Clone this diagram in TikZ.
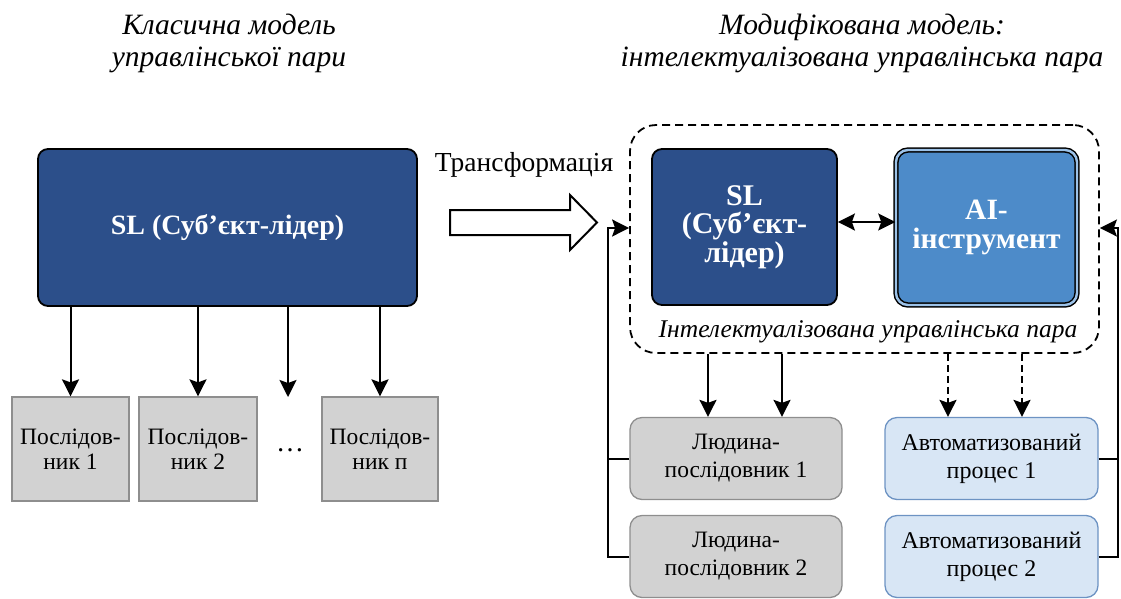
\documentclass[tikz,border=0pt]{standalone}
\usepackage{fontspec}
\setmainfont{Liberation Serif}
\usetikzlibrary{arrows.meta,calc}
\definecolor{darkblue}{HTML}{2C4F8A}
\definecolor{aiblue}{HTML}{4D8BC9}
\definecolor{aiedge}{HTML}{9CC2E8}
\definecolor{grayfill}{HTML}{D2D2D2}
\definecolor{grayedge}{HTML}{8E8E8E}
\definecolor{lightfill}{HTML}{D8E6F5}
\definecolor{lightedge}{HTML}{6D93C3}
\newcommand{\fs}[2]{\fontsize{#1}{#2}\selectfont}
\begin{document}
\begin{tikzpicture}[x=1pt,y=-1pt,
  leaderbox/.style={draw=black, line width=1.8pt, fill=darkblue, rounded corners=10pt,
    text=white, align=center, inner sep=0pt},
  aibox/.style={draw=black, line width=1.5pt, double=aiedge, double distance=2.4pt,
    fill=aiblue, rounded corners=12pt, text=white, align=center, inner sep=0pt},
  follower/.style={draw=grayedge, line width=1.3pt, fill=grayfill, align=center,
    inner sep=0pt, font=\fs{23.5}{25}},
  human/.style={draw=grayedge, line width=1.3pt, fill=grayfill, rounded corners=12pt,
    align=center, inner sep=0pt, font=\fs{23.5}{28}, minimum width=212pt, minimum height=82pt},
  autobox/.style={draw=lightedge, line width=1.3pt, fill=lightfill, rounded corners=12pt,
    align=center, inner sep=0pt, font=\fs{24}{28}, minimum width=213pt, minimum height=82pt},
  tip/.tip={Stealth[length=17pt,width=17pt,inset=3pt]},
  arr/.style={line width=2pt, -tip},
  dasharr/.style={arr, dash pattern=on 7pt off 4pt},
  title/.style={font=\itshape\fs{29.5}{32}, align=center},
]
\useasboundingbox (0,0) rectangle (1121,598);

% titles
\node[title] (t1) at (229,43) {Класична модель\\управлінської пари};
\node[title] (t2) at (862,43) {Модифікована модель:\\інтелектуалізована управлінська пара};

% classic model
\node[leaderbox, minimum width=379pt, minimum height=157pt, font=\bfseries\fs{28}{30}]
  (sl) at (227.5,227.5) {SL (Суб’єкт-лідер)};
\node[follower, minimum width=117pt, minimum height=104pt] (f1) at (70.5,449) {Послідов-\\ник 1};
\node[follower, minimum width=118pt, minimum height=104pt] (f2) at (198,449) {Послідов-\\ник 2};
\node[follower, minimum width=116pt, minimum height=104pt] (fn) at (380,449) {Послідов-\\ник п};
\node[font=\fs{28}{30}] (dots) at (290,450) {\dots};
\coordinate (c3) at (288,397);

\draw[arr] (f1.north |- sl.south) -- (f1.north);
\draw[arr] (f2.north |- sl.south) -- (f2.north);
\draw[arr] (c3 |- sl.south) -- (c3);
\draw[arr] (fn.north |- sl.south) -- (fn.north);

% transformation
\node[font=\fs{27.5}{30}] (tr) at (524,165) {Трансформація};
\draw[line width=2pt, fill=white] (450,210) -- (570,210) -- (570,195) -- (597,222.5)
  -- (570,250) -- (570,235) -- (450,235) -- cycle;

% modified model
\node[draw, line width=1.8pt, dash pattern=on 8pt off 5pt, rounded corners=26pt,
  minimum width=469pt, minimum height=228pt, inner sep=0pt] (pair) at (864.5,239) {};
\node[leaderbox, minimum width=185pt, minimum height=156pt, font=\bfseries\fs{30}{28.5}]
  (sl2) at (744.5,227) {SL\\(Суб’єкт-\\лідер)};
\node[aibox, minimum width=181pt, minimum height=155pt, font=\bfseries\fs{29.5}{29}]
  (ai) at (986.5,227.5) {AI-\\інструмент};
\draw[line width=2pt, tip-tip]
  ([yshift=5pt]sl2.east) -- ([yshift=5pt]sl2.east -| ai.west);
\node[font=\itshape\fs{25.5}{28}] (plabel) at (868,332) {Інтелектуалізована управлінська пара};

\node[human] (h1) at (736,458.5) {Людина-\\послідовник 1};
\node[human] (h2) at (736,556.5) {Людина-\\послідовник 2};
\node[autobox] (a1) at (991.5,458.5) {Автоматизований\\процес 1};
\node[autobox] (a2) at (991.5,556.5) {Автоматизований\\процес 2};

\coordinate (x1) at (708,0);
\coordinate (x2) at (782,0);
\coordinate (x3) at (948,0);
\coordinate (x4) at (1022,0);
\draw[arr] (x1 |- pair.south) -- (x1 |- h1.north);
\draw[arr] (x2 |- pair.south) -- (x2 |- h1.north);
\draw[dasharr] (x3 |- pair.south) -- (x3 |- a1.north);
\draw[dasharr] (x4 |- pair.south) -- (x4 |- a1.north);

% feedback
\coordinate (fbl) at (608,228);
\coordinate (fbr) at (1118,228);
\draw[arr] (h2.west) -| (fbl) -- (fbl -| pair.west);
\draw[line width=2pt] (h1.west) -- (h1.west -| fbl);
\draw[arr] (a2.east) -| (fbr) -- (fbr -| pair.east);
\draw[line width=2pt] (a1.east) -- (a1.east -| fbr);
\end{tikzpicture}
\end{document}
